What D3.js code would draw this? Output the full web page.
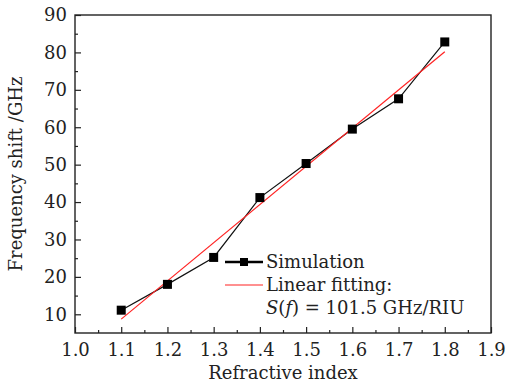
<!DOCTYPE html>
<html>
<head>
<meta charset="utf-8">
<script src="https://cdn.jsdelivr.net/npm/d3@7"></script>
<style>
  body { margin: 0; background: #fff; }
  svg text { font-family: "DejaVu Serif", serif; fill: #222; }
</style>
</head>
<body>
<div id="vis"></div>
<script>
// chart data
const indexValues = [1.1, 1.2, 1.3, 1.4, 1.5, 1.6, 1.7, 1.8];
const shiftValues = [11.1, 18.0, 25.2, 41.2, 50.3, 59.5, 67.6, 82.8];
const fitX = [1.1, 1.8];
const fitY = [8.7, 80.2];
const xTicks = [1.0, 1.1, 1.2, 1.3, 1.4, 1.5, 1.6, 1.7, 1.8, 1.9];
const yTicks = [10, 20, 30, 40, 50, 60, 70, 80, 90];

const FRAME_WIDTH = 510;
const FRAME_HEIGHT = 385;
const MARGINS = {left: 75, right: 19, top: 15, bottom: 52};
const FONT = "DejaVu Serif";
const FS = 18;

const svg = d3.select("#vis")
  .append("svg")
    .attr("width", FRAME_WIDTH)
    .attr("height", FRAME_HEIGHT);

const x = d3.scaleLinear()
  .domain([1.0, 1.9])
  .range([MARGINS.left, FRAME_WIDTH - MARGINS.right]);

const y = d3.scaleLinear()
  .domain([5, 90])
  .range([FRAME_HEIGHT - MARGINS.bottom, MARGINS.top]);

// minor ticks first, then major ticks with labels
const xMinor = [1.05, 1.15, 1.25, 1.35, 1.45, 1.55, 1.65, 1.75, 1.85];
const yMinor = [15, 25, 35, 45, 55, 65, 75, 85];

svg.append("g")
  .attr("transform", `translate(0,${y.range()[0]})`)
  .call(d3.axisBottom(x).tickValues(xMinor).tickSize(-3).tickFormat(""))
  .call(g => g.select(".domain").remove());

svg.append("g")
  .attr("transform", `translate(${x.range()[0]},0)`)
  .call(d3.axisLeft(y).tickValues(yMinor).tickSize(-3).tickFormat(""))
  .call(g => g.select(".domain").remove());

svg.append("g")
  .attr("transform", `translate(0,${y.range()[0]})`)
  .call(d3.axisBottom(x).tickValues(xTicks).tickSize(-6).tickPadding(10).tickFormat(d3.format(".1f")))
  .call(g => g.select(".domain").remove());

svg.append("g")
  .attr("transform", `translate(${x.range()[0]},0)`)
  .call(d3.axisLeft(y).tickValues(yTicks).tickSize(-6).tickPadding(8).tickFormat(d3.format("d")))
  .call(g => g.select(".domain").remove());

svg.selectAll("g").attr("font-family", FONT);
svg.selectAll(".tick line").attr("stroke", "#222").attr("stroke-width", 1.2);
svg.selectAll(".tick text")
  .attr("font-size", FS)
  .attr("fill", "#222");

// frame
svg.append("rect")
  .attr("x", x.range()[0])
  .attr("y", y.range()[1])
  .attr("width", x.range()[1] - x.range()[0])
  .attr("height", y.range()[0] - y.range()[1])
  .attr("fill", "none")
  .attr("stroke", "#222")
  .attr("stroke-width", 1.4);

// simulation line + markers
const pts = indexValues.map((d, i) => ({x: d, y: shiftValues[i]}));

svg.append("path")
  .datum(pts)
  .attr("fill", "none")
  .attr("stroke", "#111")
  .attr("stroke-width", 1.2)
  .attr("d", d3.line().x(d => x(d.x)).y(d => y(d.y)));

// linear fit
svg.append("path")
  .datum(fitX.map((d, i) => ({x: d, y: fitY[i]})))
  .attr("fill", "none")
  .attr("stroke", "#f22")
  .attr("stroke-width", 1.2)
  .attr("d", d3.line().x(d => x(d.x)).y(d => y(d.y)));

svg.selectAll(".pt")
  .data(pts)
  .enter()
  .append("rect")
    .attr("class", "pt")
    .attr("x", d => x(d.x) - 4.5)
    .attr("y", d => y(d.y) - 4.5)
    .attr("width", 9)
    .attr("height", 9)
    .attr("fill", "#000");

// legend
const leg = svg.append("g").attr("font-family", FONT).attr("font-size", FS);
leg.append("line")
  .attr("x1", 225).attr("x2", 263).attr("y1", 262).attr("y2", 262)
  .attr("stroke", "#000").attr("stroke-width", 2.5);
leg.append("rect")
  .attr("x", 240).attr("y", 258).attr("width", 8).attr("height", 8)
  .attr("fill", "#000");
leg.append("line")
  .attr("x1", 225).attr("x2", 263).attr("y1", 285).attr("y2", 285)
  .attr("stroke", "#f22").attr("stroke-width", 1.2);

leg.append("text").attr("x", 266).attr("y", 268).text("Simulation");
leg.append("text").attr("x", 266).attr("y", 291).text("Linear fitting:");
const s = leg.append("text").attr("x", 266).attr("y", 314);
s.append("tspan").attr("font-style", "italic").text("S");
s.append("tspan").text("(");
s.append("tspan").attr("font-style", "italic").text("f");
s.append("tspan").text(") = 101.5 GHz/RIU");

// axis titles
svg.append("text")
  .attr("x", (x.range()[0] + x.range()[1]) / 2)
  .attr("y", 379)
  .attr("text-anchor", "middle")
  .attr("font-size", FS)
  .text("Refractive index");

svg.append("text")
  .attr("transform", `translate(22,${(y.range()[0] + y.range()[1]) / 2}) rotate(-90)`)
  .attr("text-anchor", "middle")
  .attr("font-size", FS)
  .text("Frequency shift /GHz");
</script>
</body>
</html>
